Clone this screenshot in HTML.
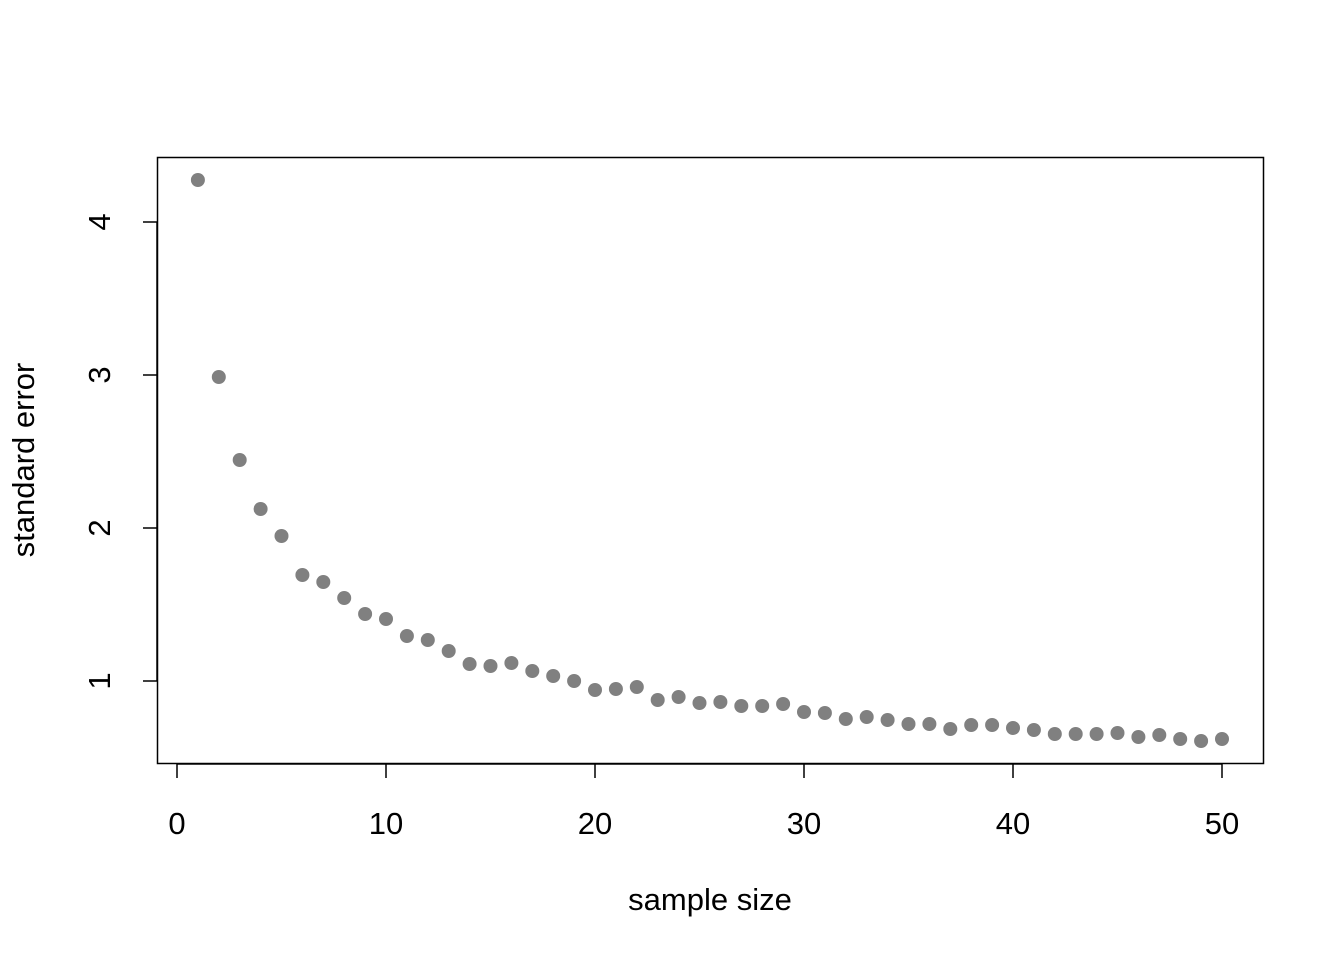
<!DOCTYPE html>
<html><head><meta charset="utf-8"><style>html,body{margin:0;padding:0;background:#fff} text{font-family:"Liberation Sans",sans-serif;font-size:31px}</style></head><body>
<svg width="1344" height="960" viewBox="0 0 1344 960" xmlns="http://www.w3.org/2000/svg">
<rect x="157.5" y="157.5" width="1106" height="606" fill="none" stroke="#000" stroke-width="1.5"/>
<g stroke="#000" stroke-width="1.5">
<line x1="177" y1="764" x2="1222" y2="764"/>
<line x1="177" y1="764" x2="177" y2="778"/><line x1="386" y1="764" x2="386" y2="778"/><line x1="595" y1="764" x2="595" y2="778"/><line x1="804" y1="764" x2="804" y2="778"/><line x1="1013" y1="764" x2="1013" y2="778"/><line x1="1222" y1="764" x2="1222" y2="778"/>
<line x1="157" y1="681" x2="157" y2="222"/>
<line x1="143" y1="681" x2="157" y2="681"/><line x1="143" y1="528" x2="157" y2="528"/><line x1="143" y1="375" x2="157" y2="375"/><line x1="143" y1="222" x2="157" y2="222"/>
</g>
<g text-anchor="middle">
<text x="177" y="834">0</text><text x="386" y="834">10</text><text x="595" y="834">20</text><text x="804" y="834">30</text><text x="1013" y="834">40</text><text x="1222" y="834">50</text>
<text x="710" y="910">sample size</text>
<text transform="translate(110,681) rotate(-90)">1</text>
<text transform="translate(110,528) rotate(-90)">2</text>
<text transform="translate(110,375) rotate(-90)">3</text>
<text transform="translate(110,222) rotate(-90)">4</text>
<text transform="translate(34,460) rotate(-90)">standard error</text>
</g>
<g fill="#808080">
<circle cx="197.9" cy="180" r="7"/><circle cx="218.8" cy="377" r="7"/><circle cx="239.7" cy="460" r="7"/><circle cx="260.6" cy="509" r="7"/><circle cx="281.5" cy="536" r="7"/>
<circle cx="302.4" cy="575" r="7"/><circle cx="323.3" cy="582" r="7"/><circle cx="344.2" cy="598" r="7"/><circle cx="365.1" cy="614" r="7"/><circle cx="386" cy="619" r="7"/>
<circle cx="406.9" cy="636" r="7"/><circle cx="427.8" cy="640" r="7"/><circle cx="448.7" cy="651" r="7"/><circle cx="469.6" cy="664" r="7"/><circle cx="490.5" cy="666" r="7"/>
<circle cx="511.4" cy="663" r="7"/><circle cx="532.3" cy="671" r="7"/><circle cx="553.2" cy="676" r="7"/><circle cx="574.1" cy="681" r="7"/><circle cx="595" cy="690" r="7"/>
<circle cx="615.9" cy="689" r="7"/><circle cx="636.8" cy="687" r="7"/><circle cx="657.7" cy="700" r="7"/><circle cx="678.6" cy="697" r="7"/><circle cx="699.5" cy="703" r="7"/>
<circle cx="720.4" cy="702" r="7"/><circle cx="741.3" cy="706" r="7"/><circle cx="762.2" cy="706" r="7"/><circle cx="783.1" cy="704" r="7"/><circle cx="804" cy="712" r="7"/>
<circle cx="824.9" cy="713" r="7"/><circle cx="845.8" cy="719" r="7"/><circle cx="866.7" cy="717" r="7"/><circle cx="887.6" cy="720" r="7"/><circle cx="908.5" cy="724" r="7"/>
<circle cx="929.4" cy="724" r="7"/><circle cx="950.3" cy="729" r="7"/><circle cx="971.2" cy="725" r="7"/><circle cx="992.1" cy="725" r="7"/><circle cx="1013" cy="728" r="7"/>
<circle cx="1033.9" cy="730" r="7"/><circle cx="1054.8" cy="734" r="7"/><circle cx="1075.7" cy="734" r="7"/><circle cx="1096.6" cy="734" r="7"/><circle cx="1117.5" cy="733" r="7"/>
<circle cx="1138.4" cy="737" r="7"/><circle cx="1159.3" cy="735" r="7"/><circle cx="1180.2" cy="739" r="7"/><circle cx="1201.1" cy="741" r="7"/><circle cx="1222" cy="739" r="7"/>
</g>
</svg>
</body></html>
